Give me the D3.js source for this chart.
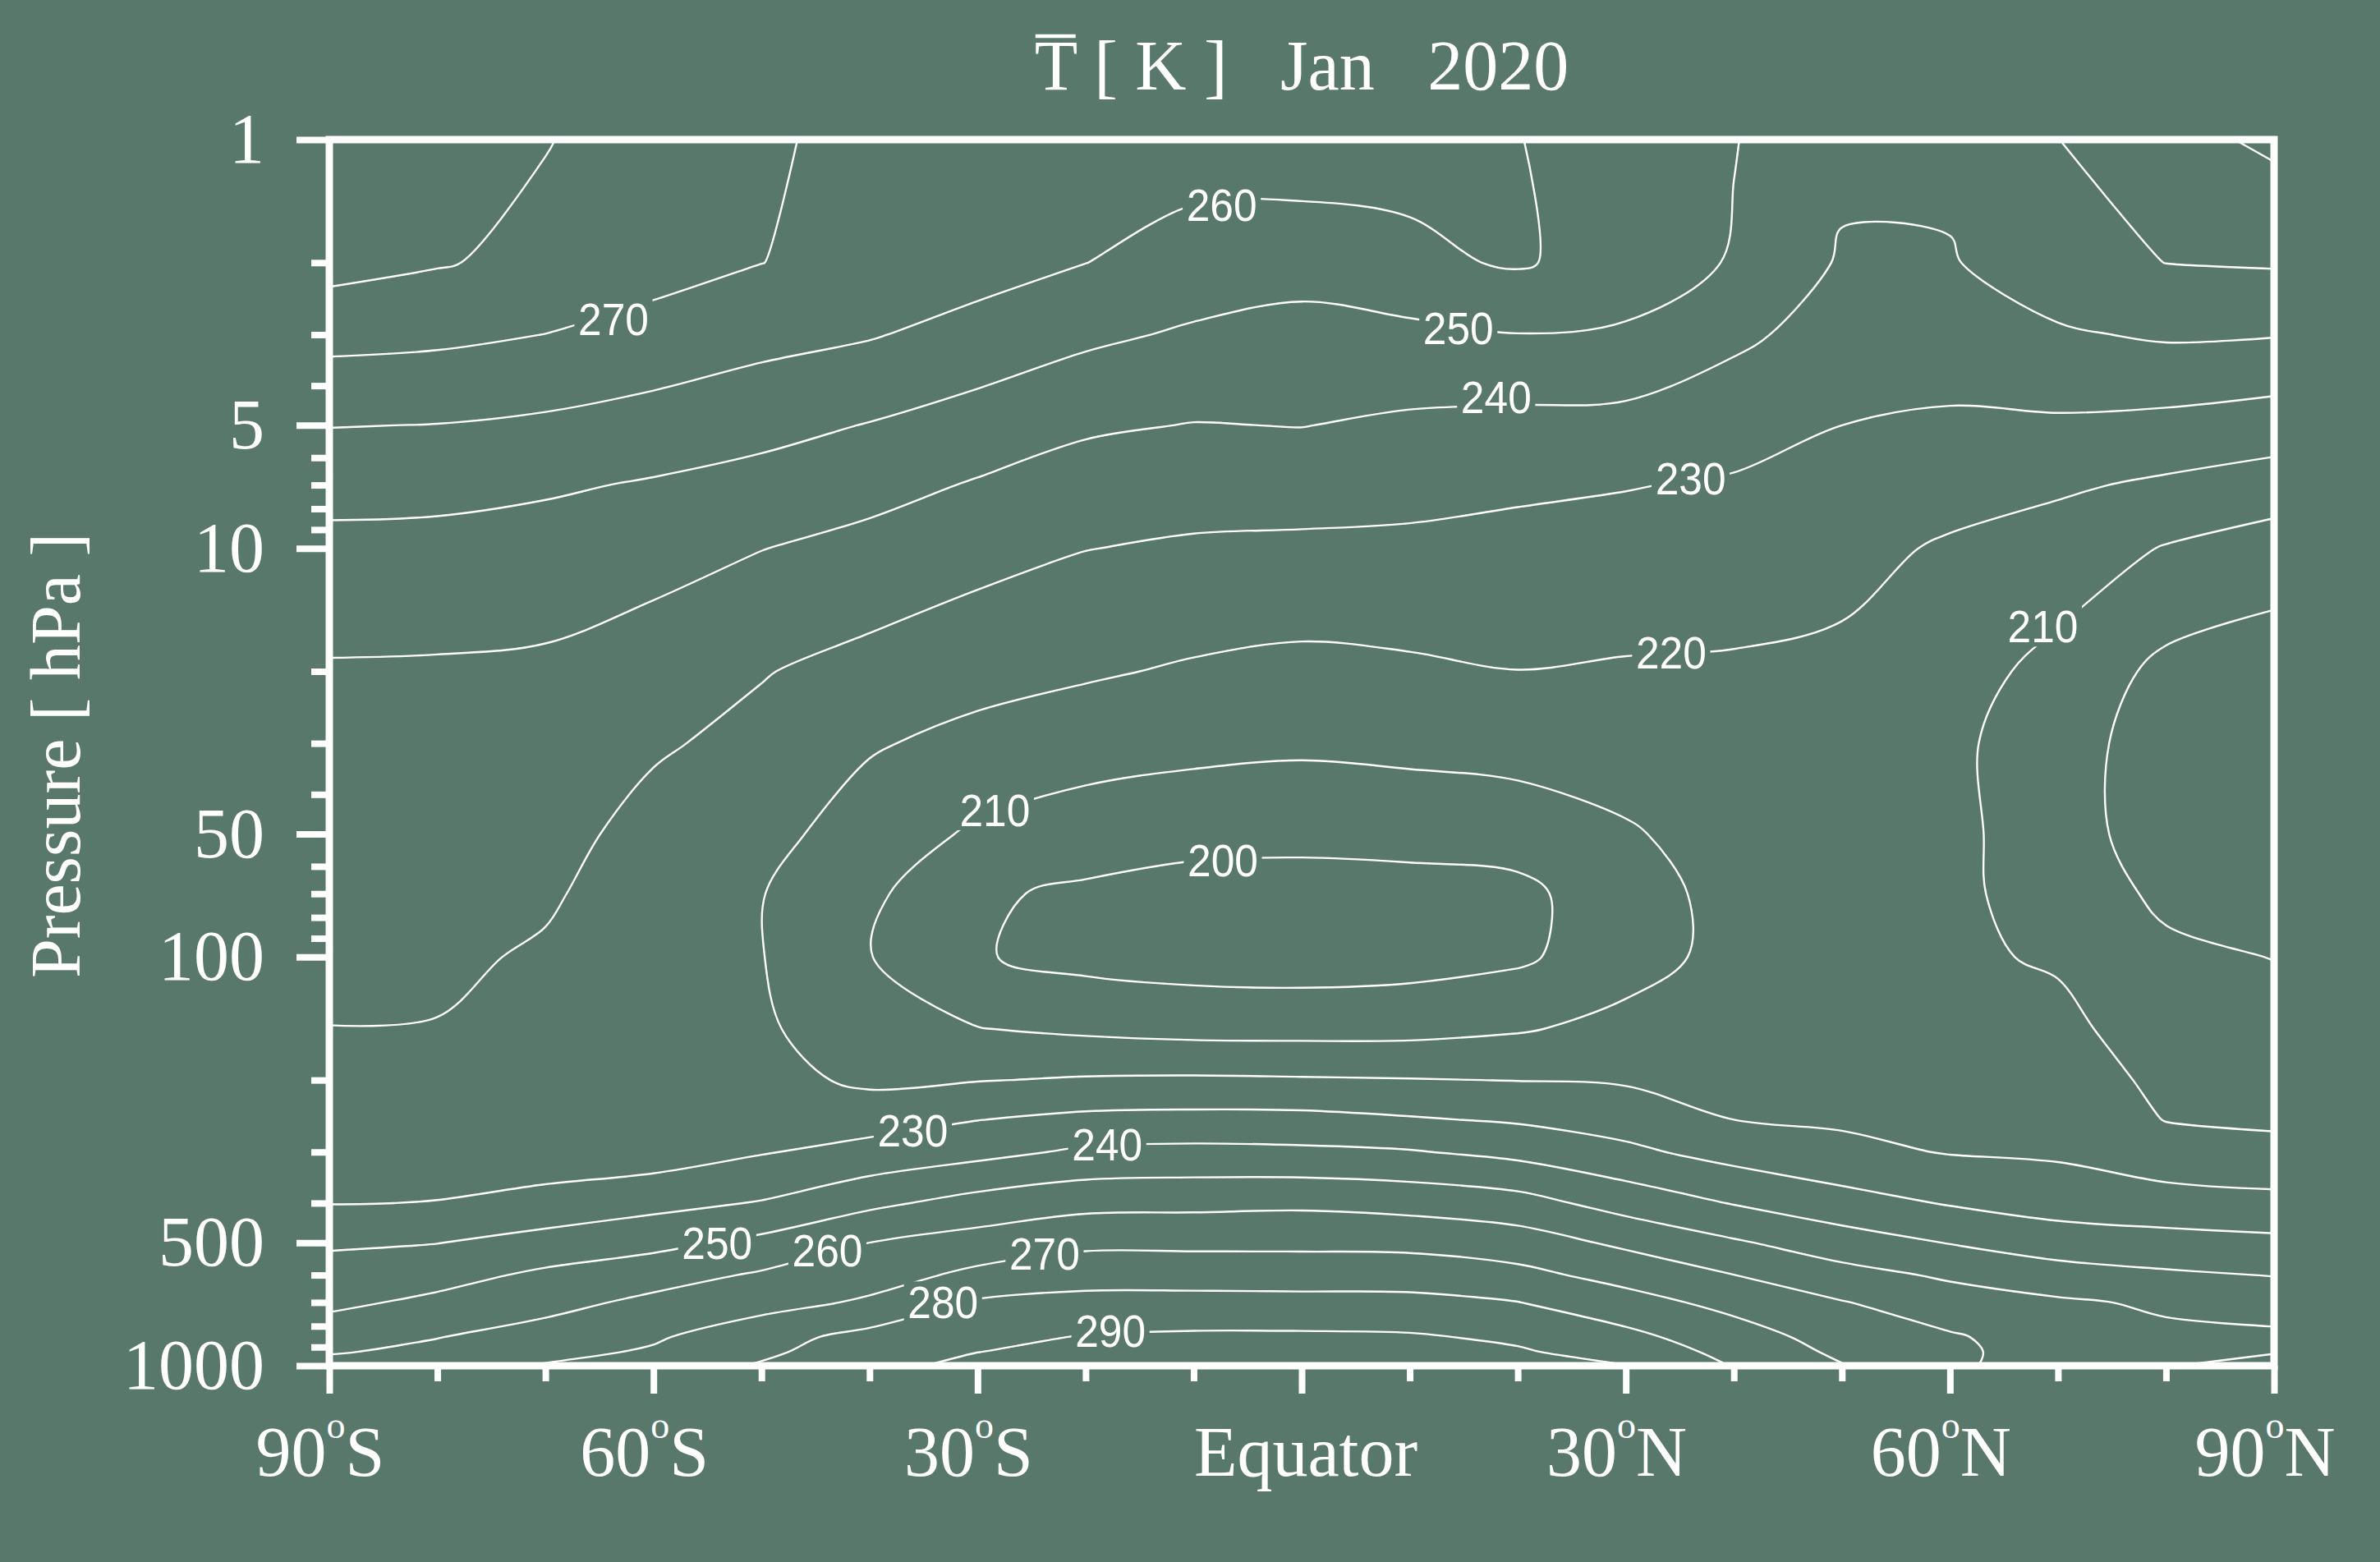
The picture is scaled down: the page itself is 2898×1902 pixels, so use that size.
<!DOCTYPE html>
<html><head><meta charset="utf-8">
<script src="https://cdn.jsdelivr.net/npm/d3@7"></script>
<style>
html,body{margin:0;padding:0;background:#58786b;}
svg{display:block;}
</style></head><body>
<svg id="chart" width="2898" height="1902"></svg>
<script>
// ---------------- data ----------------
const latitudes = [-90,-80,-70,-60,-50,-40,-30,-20,-10,0,10,20,30,40,50,60,70,80,90];
const pressureLevels = [1,2,3,5,7,10,20,30,50,70,100,150,200,250,300,400,500,600,700,850,925,1000];

// zonal-mean temperature [K], one array per pressure level, 90S -> 90N
const t1    = [287,284,280.4,276,271,268,267.5,264.5,264.5,264,263.4,260.3,255,250.4,242.5,242.5,249.9,256.5,262];
const t2    = [283.5,280.7,277.5,273.7,270.1,266.8,264,260.1,256,256,258,261,255.7,249.2,239,239.3,246,250.1,250.9];
const t3    = [273.1,272.1,269.9,266.6,263.1,260.7,256.5,252,248.7,244.9,247.6,249.8,248.7,242,236,235.1,238.8,241.2,240.5];
const t5    = [260.3,259.8,258.3,255.9,253,249.6,245.6,241.3,239.7,240.2,238.4,237.2,236.8,233.8,230,228.6,228.6,227.3,225];
const t7    = [253.4,253,251.3,249.1,246.6,243.2,239.2,235.8,234.3,234.4,233.2,231.5,230.4,229,226.6,223.8,221.4,218.4,215.5];
const t10   = [247.3,246.9,245.8,243.5,240.2,237.1,233.4,230.2,228.7,228.1,227.9,227.2,226.4,225.4,222.9,218.8,215.5,209.4,205];
const t20   = [239.1,238.9,238.3,235.2,230.5,226.8,223.3,221.1,218.9,217.4,218.5,219.9,219.1,218.8,218,214,207,197.5,195];
const t30   = [237.3,237.1,236,231.1,227.5,220.9,217.3,214.6,212.8,211.7,212.7,213.9,214.9,216,216,212,204.5,195,193.5];
const t50   = [235,234.7,233.1,227,223,215.5,208.5,204.7,202.9,202.6,203.2,204.4,209,214,213.5,212.5,204.5,195,193];
const t70   = [233.4,233.2,231.1,225.5,220.3,212,201.2,198.5,196.5,196,196.5,197.5,206,213,212.5,212,206,198,195.5];
const t100  = [231.8,231.5,229,224,220.3,210.3,200.7,197,195.5,195,196,198.3,206,213,212,211.5,209,202,199.8];
const t150  = [229.9,229.7,226.5,223,221.5,213.5,210.3,208.3,206.9,206.7,207,209.1,212.9,215,213.5,212.5,212.3,205.4,203.7];
const t200  = [227.5,227.5,225,222.5,223.5,218,219.6,220.9,221.3,220.9,220.4,219.8,219,218.2,216,215,215,207.8,206.6];
const t250  = [226.5,226.5,224.5,223,226.5,226.3,229.8,232.4,233,232.8,230.9,228.9,225.7,220,218.8,217.5,217,209.7,208.8];
const t300  = [226.8,226.8,224,224.9,229.4,233.1,237.1,241.6,242.5,241.9,240.7,237.3,232.1,226.4,222.3,219.5,218.6,214.2,212.1];
const t400  = [229.7,230.2,233.5,237.1,240.6,247.8,253.6,257.1,257.6,258.2,256.6,253.8,246,239.5,233.9,229.3,225.7,224,222.9];
const t500  = [238.7,239.8,243.6,247.2,252.6,260,264,267.8,267.8,267.8,267.4,264.7,258.1,251.2,244.7,239.6,235.3,233.6,232.2];
const t600  = [243.8,246.5,251.9,256,261.2,265.6,272.4,276.2,276,275.8,275.6,272.7,266.7,260.1,253.4,248.6,243.9,241.4,239.7];
const t700  = [247.8,252.2,256.8,262.3,266.1,271.5,281.1,282.8,283,282.8,282.6,280.2,273.7,267,260.5,254.5,251.5,248.5,245.3];
const t850  = [255.5,259.7,264,268.7,276.5,283,287.4,290.5,291.5,291.5,291,288.4,282.6,274.4,266,261,255.5,252,252];
const t925  = [259.2,262.3,267.1,271.2,278,286,289.9,292.5,294,294.5,293.8,291,286.2,277.1,268.1,262,255.5,251.5,250.5];
const t1000 = [263.4,265.5,270.7,274.5,281,287.3,292.5,294.5,297,298,296.5,293.5,290.2,279.5,270.5,262.5,253,250.4,247];

const contourLevels = [200,210,220,230,240,250,260,270,280,290];

const yMajorTicks = [1,5,10,50,100,500,1000];
const yMinorTicks = [2,3,4,6,7,8,9,20,30,40,60,70,80,90,200,300,400,600,700,800,900];
const xMajorTicks = [-90,-60,-30,0,30,60,90];
const xTickLabels = ["90°S","60°S","30°S","Equator","30°N","60°N","90°N"];
const xMinorTicks = [-80,-70,-50,-40,-20,-10,10,20,40,50,70,80];

// contour label anchors: text, latitude, pressure
const labelText = ["270","260","250","240","230","220","210","210","200","230","240","250","260","270","280","290"];
const labelLat  = [-63.7,-7.4,14.5,18.0,36.0,34.2,68.6,-28.4,-7.3,-36.0,-18.0,-54.1,-43.9,-23.8,-33.2,-17.7];
const labelP    = [2.75,1.445,2.89,4.25,6.75,18.0,15.5,43.6,57.8,265,287,500,522,531,698,821];

const titleMain = "T";
const titleRest = " [ K ]   Jan   2020";
const yTitle = "Pressure [ hPa ]";

// ---------------- drawing ----------------
const BG = "#58786b";
const svg = d3.select("#chart");
svg.append("rect").attr("width",2898).attr("height",1902).attr("fill",BG);

const pL = 401, pR = 2769, pT = 170, pB = 1663;
const x = d3.scaleLinear().domain([-90,90]).range([pL,pR]);
const y = d3.scaleLog().domain([1,1000]).range([pT,pB]);

const rows = [t1,t2,t3,t5,t7,t10,t20,t30,t50,t70,t100,t150,t200,t250,t300,t400,t500,t600,t700,t850,t925,t1000];
const nx = latitudes.length, ny = pressureLevels.length;
const values = rows.flat();

const idxLat = d3.scaleLinear().domain(d3.range(nx)).range(latitudes);
const idxLogP = d3.scaleLinear().domain(d3.range(ny)).range(pressureLevels.map(Math.log10));
function toPx(pt){
  const i = Math.max(0, Math.min(nx-1, pt[0]-0.5));
  const j = Math.max(0, Math.min(ny-1, pt[1]-0.5));
  return [x(idxLat(i)), y(Math.pow(10, idxLogP(j)))];
}
function onEdge(p){ return p[0] <= 0 || p[0] >= nx || p[1] <= 0 || p[1] >= ny; }

function ringToLines(ring){
  const pts = ring.slice();
  const f = pts[0], l = pts[pts.length-1];
  if (!(f[0]===l[0] && f[1]===l[1])) pts.push(f);
  const segs = [];
  for (let i=0;i<pts.length-1;i++) segs.push([pts[i],pts[i+1]]);
  const keep = segs.map(s => !(onEdge(s[0]) || onEdge(s[1])));
  const lines = [];
  if (keep.every(k=>k)) { lines.push(pts.map(toPx)); return lines; }
  const n = segs.length;
  const k0 = keep.indexOf(false);
  let cur = null;
  for (let t=1;t<=n;t++){
    const k = (k0+t)%n;
    if (keep[k]) {
      if (!cur) cur = [segs[k][0]];
      cur.push(segs[k][1]);
    } else if (cur) { lines.push(cur.map(toPx)); cur = null; }
  }
  if (cur) lines.push(cur.map(toPx));
  return lines;
}
function dedupe(line){
  const out = [];
  line.forEach(p => { const q = out[out.length-1]; if (!q || Math.hypot(p[0]-q[0],p[1]-q[1]) > 0.5) out.push(p); });
  return out;
}

const contours = d3.contours().size([nx,ny]).thresholds(contourLevels)(values);
const lineGen = d3.line().curve(d3.curveCatmullRom.alpha(0.5));
const gC = svg.append("g").attr("fill","none").attr("stroke","#fff").attr("stroke-width",2.4).attr("stroke-linejoin","round");
contours.forEach(c => {
  c.coordinates.forEach(poly => poly.forEach(ring => {
    ringToLines(ring).forEach(line => {
      const d = dedupe(line);
      if (d.length > 1) gC.append("path").attr("d", lineGen(d));
    });
  }));
});

// contour labels
const gL = svg.append("g");
labelText.forEach((txt,i) => {
  const g = gL.append("g").attr("transform",`translate(${x(labelLat[i])},${y(labelP[i])}) scale(0.92,1)`);
  const r = g.append("rect").attr("fill",BG);
  const t = g.append("text").text(txt)
    .attr("text-anchor","middle").attr("dominant-baseline","central")
    .attr("font-family","'Liberation Sans', Arial, sans-serif").attr("font-size",56).attr("fill","#fff");
  const b = t.node().getBBox();
  r.attr("x",b.x-5).attr("width",b.width+10).attr("y",b.y+b.height*0.1).attr("height",b.height*0.8);
});

// axes
const serif = "'Liberation Serif','Times New Roman',serif";
function styleAxis(g){
  g.attr("font-family",null).attr("font-size",null).attr("color","#fff");
  g.select(".domain").remove();
  g.selectAll("line").attr("stroke","#fff").attr("stroke-width",8);
}
svg.append("g").attr("transform",`translate(${pL},0)`)
  .call(d3.axisLeft(y).tickValues(yMinorTicks).tickSize(22).tickFormat(""))
  .call(styleAxis);
svg.append("g").attr("transform",`translate(${pL},0)`)
  .call(d3.axisLeft(y).tickValues(yMajorTicks).tickSize(40).tickPadding(39).tickFormat(d3.format("d")))
  .call(styleAxis)
  .call(g => g.selectAll("text").attr("font-family",serif).attr("font-size",86).attr("fill","#fff"));
svg.append("g").attr("transform",`translate(0,${pB})`)
  .call(d3.axisBottom(x).tickValues(xMinorTicks).tickSize(19).tickFormat(""))
  .call(styleAxis);
svg.append("g").attr("transform",`translate(0,${pB})`)
  .call(d3.axisBottom(x).tickValues(xMajorTicks).tickSize(34).tickFormat(""))
  .call(styleAxis);

// x tick labels with superscript "o"
const gX = svg.append("g").attr("font-family",serif).attr("fill","#fff");
xMajorTicks.forEach((v,i) => {
  const lab = xTickLabels[i];
  const t = gX.append("text").attr("y",1797).attr("text-anchor","middle").attr("font-size",86);
  if (lab.includes("°")) {
    const parts = lab.split("°");
    t.attr("x", x(v) - 11);
    t.append("tspan").text(parts[0]);
    t.append("tspan").text("o").attr("font-size",46).attr("dy",-46);
    t.append("tspan").text(parts[1]).attr("dy",46);
  } else {
    t.attr("x", x(v) + 5).text(lab);
  }
});

// y title
svg.append("text").attr("transform","translate(97,920) rotate(-90)")
  .attr("text-anchor","middle").attr("font-family",serif).attr("font-size",86).attr("fill","#fff")
  .text(yTitle);

// title
const title = svg.append("text").attr("x",(pL+pR)/2).attr("y",109).attr("text-anchor","middle")
  .attr("font-family",serif).attr("font-size",86).attr("fill","#fff")
  .attr("xml:space","preserve").style("white-space","pre");
title.append("tspan").text(titleMain);
title.append("tspan").text(titleRest);
const ext = title.node().getExtentOfChar(0);
svg.append("line").attr("x1",ext.x+1).attr("x2",ext.x+ext.width-1).attr("y1",44).attr("y2",44)
  .attr("stroke","#fff").attr("stroke-width",4.5);

// frame
svg.append("rect").attr("x",pL).attr("y",pT).attr("width",pR-pL).attr("height",pB-pT)
  .attr("fill","none").attr("stroke","#fff").attr("stroke-width",9);
</script>
</body></html>
